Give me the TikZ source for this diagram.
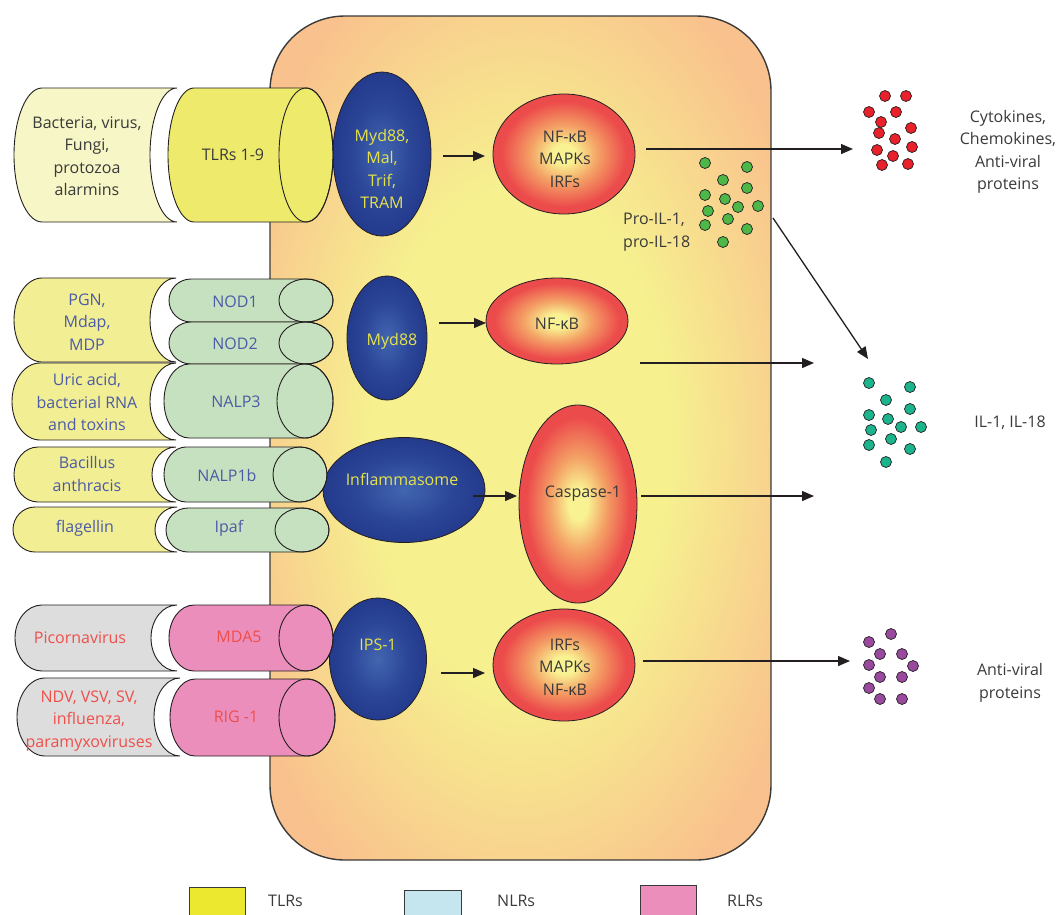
\documentclass[tikz,border=0pt]{standalone}
\usepackage{fontspec}
\setmainfont{Open Sans}
\usetikzlibrary{shapes.geometric,arrows.meta}
\definecolor{cellY}{HTML}{F6F08F}
\definecolor{cellO}{HTML}{F9C18D}
\definecolor{cellB}{HTML}{3A3A3A}
\definecolor{blueC}{HTML}{4266B0}
\definecolor{blueM}{HTML}{2B4597}
\definecolor{blueE}{HTML}{1E3283}
\definecolor{redY}{HTML}{F9F292}
\definecolor{redO}{HTML}{F4A065}
\definecolor{redR}{HTML}{EC4B4B}
\definecolor{ligT}{HTML}{F7F6C6}
\definecolor{ligN}{HTML}{F1EE94}
\definecolor{ligR}{HTML}{DDDDDD}
\definecolor{recT}{HTML}{EDEA6C}
\definecolor{recN}{HTML}{C6E1BF}
\definecolor{recR}{HTML}{EC8EBB}
\definecolor{txtD}{HTML}{3A3A3A}
\definecolor{txtN}{HTML}{4C5BA6}
\definecolor{txtR}{HTML}{EF4F4B}
\definecolor{txtY}{HTML}{E6E34A}
\definecolor{dotR}{HTML}{E8212A}
\definecolor{dotG}{HTML}{4DB848}
\definecolor{dotT}{HTML}{1BB48C}
\definecolor{dotP}{HTML}{9A4A9E}
\definecolor{legT}{HTML}{ECE82F}
\definecolor{legN}{HTML}{C5E6EE}
\definecolor{legR}{HTML}{EC8EBB}
\definecolor{lineK}{HTML}{231F20}
\pgfdeclareradialshading{cellsh}{\pgfpoint{0bp}{0bp}}{color(0bp)=(cellY); color(15bp)=(cellY); color(31bp)=(cellO); color(50bp)=(cellO)}
\pgfdeclareradialshading{bluesh}{\pgfpoint{0bp}{0bp}}{color(0bp)=(blueC); color(15bp)=(blueM); color(34bp)=(blueE); color(50bp)=(blueE)}
\pgfdeclareradialshading{redsh}{\pgfpoint{0bp}{0bp}}{color(0bp)=(redY); color(4bp)=(redY); color(12bp)=(redO); color(22bp)=(redR); color(50bp)=(redR)}
\newcommand\ligand[7]{%
  \pgfmathsetmacro\hh{(#4-#3)/2}%
  \filldraw[fill=#7, draw=lineK, line width=0.9pt] (#1+#5,#3) -- (#2,#3)
    arc[start angle=90,end angle=270,x radius=#6pt,y radius=\hh pt] -- (#1+#5,#4)
    arc[start angle=270,end angle=90,x radius=#5pt,y radius=\hh pt] -- cycle;}
\newcommand\recep[7]{%
  \pgfmathsetmacro\hh{(#4-#3)/2}%
  \filldraw[fill=#7, draw=lineK, line width=0.9pt] (#1+#5,#3) -- (#2-#6,#3)
    arc[start angle=90,end angle=-90,x radius=#6pt,y radius=\hh pt] -- (#1+#5,#4)
    arc[start angle=270,end angle=90,x radius=#5pt,y radius=\hh pt] -- cycle;
  \draw[draw=lineK, line width=0.9pt] (#2-#6,#3/2+#4/2) ellipse[x radius=#6pt,y radius=\hh pt];}
\tikzset{
  blueov/.style={ellipse, inner sep=0pt, draw=lineK, line width=0.8pt, shade, shading=bluesh},
  redov/.style={ellipse, inner sep=0pt, draw=lineK, line width=0.8pt, shade, shading=redsh},
  lbl/.style={align=center, inner sep=0pt, font=\fontsize{16}{22.5}\selectfont},
  arr/.style={draw=lineK, line width=1.3pt, -{Triangle[length=12pt,width=10pt]}},
  dot/.style={draw=lineK, line width=0.7pt},
  legbox/.style={draw=txtD, line width=0.8pt}
}
\begin{document}
\begin{tikzpicture}[x=1pt,y=-1pt]
\useasboundingbox (0,0) rectangle (1060,914);
% cell
\shadedraw[shading=cellsh, draw=cellB, line width=1.4pt, rounded corners=75pt] (270,16) rectangle (771,860);
% blue adaptor ovals
\node[blueov, minimum width=98pt, minimum height=164pt] (ad1) at (382,154) {};
\node[blueov, minimum width=80pt, minimum height=124pt] (ad2) at (387,338) {};
\node[blueov, minimum width=162pt, minimum height=105pt] (ad3) at (404,490) {};
\node[blueov, minimum width=97pt, minimum height=122pt] (ad4) at (378,659) {};
% red ovals
\node[redov, minimum width=142pt, minimum height=120pt] (tf1) at (564,154) {};
\node[redov, minimum width=142pt, minimum height=86pt] (tf2) at (557,321) {};
\node[redov, minimum width=118pt, minimum height=198pt] (tf3) at (578,504) {};
\node[redov, minimum width=142pt, minimum height=112pt] (tf4) at (564,665) {};
% receptors
\recep{168}{333}{88}{222}{26}{27}{recT}
\recep{169}{333}{279}{322}{22}{27}{recN}
\recep{169}{333}{322}{364}{22}{27}{recN}
\recep{164}{333}{364}{438}{25}{28}{recN}
\recep{164}{327}{447}{502}{22}{27}{recN}
\recep{166}{329}{508}{552}{22}{27}{recN}
\recep{169}{333}{605}{671}{25}{27}{recR}
\recep{170}{335}{679}{756}{25}{28}{recR}
% ligands
\ligand{14}{177}{88}{222}{28}{27}{ligT}
\ligand{14}{176}{278}{362}{28}{26}{ligN}
\ligand{12}{176}{363}{440}{28}{26}{ligN}
\ligand{14}{176}{447}{502}{24}{24}{ligN}
\ligand{13}{177}{507}{552}{22}{22}{ligN}
\ligand{15}{177}{605}{671}{27}{26}{ligR}
\ligand{17}{180}{678}{756}{28}{26}{ligR}
% ligand labels
\node[lbl, text=txtD] (l1) at (87,156) {Bacteria, virus,\\Fungi,\\protozoa\\alarmins};
\node[lbl, text=txtN] (l2) at (87,322) {PGN,\\Mdap,\\MDP};
\node[lbl, text=txtN] (l3) at (87,402) {Uric acid,\\bacterial RNA\\and toxins};
\node[lbl, text=txtN] (l4) at (87,474) {Bacillus\\anthracis};
\node[lbl, text=txtN] (l5) at (85,528) {flagellin};
\node[lbl, text=txtR] (l6) at (80,638) {Picornavirus};
\node[lbl, text=txtR] (l7) at (89,721) {NDV, VSV, SV,\\influenza,\\paramyxoviruses};
% receptor labels
\node[lbl, text=txtD] (r1) at (233,155) {TLRs 1-9};
\node[lbl, text=txtN] (r2) at (235,302) {NOD1};
\node[lbl, text=txtN] (r3) at (235,344) {NOD2};
\node[lbl, text=txtN] (r4) at (236,402) {NALP3};
\node[lbl, text=txtN] (r5) at (227,475) {NALP1b};
\node[lbl, text=txtN] (r6) at (229,528) {Ipaf};
\node[lbl, text=txtR] (r7) at (239,637) {MDA5};
\node[lbl, text=txtR] (r8) at (236,717) {RIG -1};
% oval labels
\node[lbl, text=txtY] (t1) at (382,169) {Myd88,\\Mal,\\Trif,\\TRAM};
\node[lbl, text=txtY] (t2) at (392,341) {Myd88};
\node[lbl, text=txtY] (t3) at (402,479) {Inflammasome};
\node[lbl, text=txtY] (t4) at (378,645) {IPS-1};
\node[lbl, text=txtD] (t5) at (565,159) {NF-κB\\MAPKs\\IRFs};
\node[lbl, text=txtD] (t6) at (557,324) {NF-κB};
\node[lbl, text=txtD] (t7) at (583,494) {Caspase-1};
\node[lbl, text=txtD] (t8) at (565,667) {IRFs\\MAPKs\\NF-κB};
% arrow end points
\coordinate (a1s) at (443,156); \coordinate (a1e) at (485,156);
\coordinate (a2s) at (646,149); \coordinate (a2e) at (853,149);
\coordinate (a3s) at (773,218); \coordinate (a3e) at (868,359);
\coordinate (a4s) at (439,323); \coordinate (a4e) at (486,323);
\coordinate (a5s) at (640,363); \coordinate (a5e) at (814,363);
\coordinate (a6s) at (473,496); \coordinate (a6e) at (517,496);
\coordinate (a7s) at (641,496); \coordinate (a7e) at (814,496);
\coordinate (a8s) at (441,673); \coordinate (a8e) at (485,673);
\coordinate (a9s) at (643,661); \coordinate (a9e) at (850,661);
\foreach \s/\e in {a1s/a1e,a2s/a2e,a3s/a3e,a4s/a4e,a5s/a5e,a6s/a6e,a7s/a7e,a8s/a8e,a9s/a9e}
  \draw[arr] (\s) -- (\e);
% dots
\foreach \x/\y in {885/96,906/96,869/112,896/112,881/122,911/128,879/133,895/139,877/150,912/147,893/156,882/165,908/164}
  \filldraw[dot, fill=dotR] (\x,\y) circle[radius=5.5pt];
\foreach \x/\y in {705/163,747/167,723/180,747/188,705/195,725/199,738/207,758/206,708/211,728/219,705/225,747/229,723/242}
  \filldraw[dot, fill=dotG] (\x,\y) circle[radius=5.5pt];
\foreach \x/\y in {869/383,910/387,886/400,910/409,869/415,888/419,901/427,921/427,871/430,891/439,869/445,910/449,886/462}
  \filldraw[dot, fill=dotT] (\x,\y) circle[radius=5.5pt];
\foreach \x/\y in {891/634,869/642,880/654,902/654,869/665,913/666,880/677,902/677,869/688,880/699,902/699}
  \filldraw[dot, fill=dotP] (\x,\y) circle[radius=5.5pt];
% output labels
\node[lbl, text=txtD] (o1) at (1008,152) {Cytokines,\\Chemokines,\\Anti-viral\\proteins};
\node[lbl, text=txtD, align=left, anchor=west] (o2) at (623,232) {Pro-IL-1,\\pro-IL-18};
\node[lbl, text=txtD] (o3) at (1010,423) {IL-1, IL-18};
\node[lbl, text=txtD] (o4) at (1010,683) {Anti-viral\\proteins};
% legend
\filldraw[legbox, fill=legT] (189,887) rectangle (245,916);
\filldraw[legbox, fill=legN] (404,890) rectangle (461,916);
\filldraw[legbox, fill=legR] (640,885) rectangle (696,916);
\node[lbl, text=txtD, anchor=west] (g1) at (268,901) {TLRs};
\node[lbl, text=txtD, anchor=west] (g2) at (497,901) {NLRs};
\node[lbl, text=txtD, anchor=west] (g3) at (727,901) {RLRs};
\end{tikzpicture}
\end{document}
